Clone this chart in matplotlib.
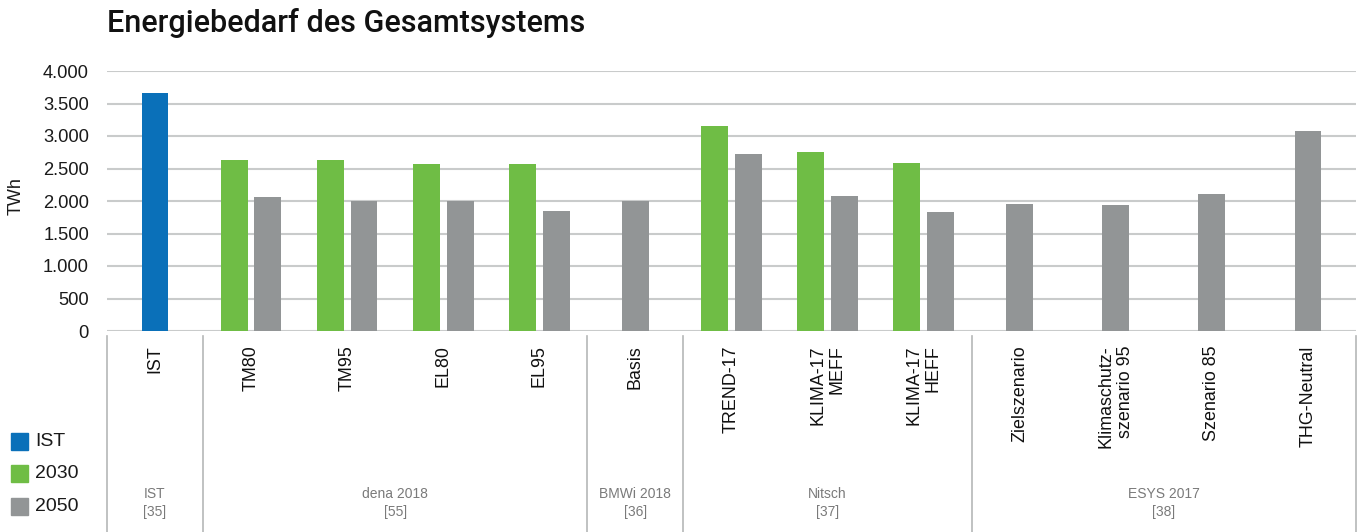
import matplotlib
matplotlib.use("Agg")
import matplotlib.pyplot as plt
from matplotlib.patches import Rectangle
from matplotlib.ticker import FuncFormatter
import numpy as np

plt.rcParams["font.family"] = ["Liberation Sans", "DejaVu Sans"]

# Scenario data (TWh); None = no value for that year
categories = ["IST", "TM80", "TM95", "EL80", "EL95", "Basis", "TREND-17",
              "KLIMA-17\nMEFF", "KLIMA-17\nHEFF", "Zielszenario",
              "Klimaschutz-\nszenario 95", "Szenario 85", "THG-Neutral"]
ist_values = [3660, None, None, None, None, None, None, None, None, None, None, None, None]
values_2030 = [None, 2630, 2630, 2570, 2570, None, 3160, 2750, 2580, None, None, None, None]
values_2050 = [None, 2060, 2000, 2000, 1850, 2000, 2720, 2080, 1830, 1950, 1940, 2110, 3070]

# Study groups: label and number of scenarios belonging to it
group_labels = ["IST\n[35]", "dena 2018\n[55]", "BMWi 2018\n[36]", "Nitsch\n[37]", "ESYS 2017\n[38]"]
group_sizes = [1, 4, 1, 3, 4]

series_names = ["IST", "2030", "2050"]
colors = {"IST": "#0a70b9", "2030": "#6fbd45", "2050": "#929596"}

W, H = 1364, 532
fig = plt.figure(figsize=(W / 100, H / 100), dpi=100)

x0, x1 = 107, 1356
y_top, y_zero = 71, 331
ax = fig.add_axes([x0 / W, 1 - y_zero / H, (x1 - x0) / W, (y_zero - y_top) / H])

n = len(categories)
bar_w = 0.28
offset = 0.175

series = {"IST": ist_values, "2030": values_2030, "2050": values_2050}
for i in range(n):
    present = [s for s in series_names if series[s][i] is not None]
    if len(present) == 1:
        pos = [0.0]
    else:
        pos = list(np.linspace(-offset, offset, len(present)))
    for s, dx in zip(present, pos):
        ax.bar(i + dx, series[s][i], width=bar_w, color=colors[s], zorder=3)

ax.set_xlim(-0.5, n - 0.5)
ax.set_ylim(0, 4000)
ax.set_yticks(np.arange(0, 4001, 500))
ax.yaxis.set_major_formatter(FuncFormatter(lambda v, p: f"{int(v):,}".replace(",", ".")))
ax.tick_params(axis="y", length=0, pad=13, labelsize=13.2, labelcolor="#1a1a1a")
ax.set_xticks([])
ax.grid(axis="y", color="#c9cbcb", linewidth=1.5, zorder=0)
for sp in ax.spines.values():
    sp.set_visible(False)
ax.set_ylabel("TWh", fontsize=13, color="#1a1a1a")
ax.yaxis.set_label_coords((25 - x0) / (x1 - x0), 0.52)

# Scenario labels below the axis
for i, lab in enumerate(categories):
    ax.annotate(lab, xy=(i, 0), xycoords=("data", "axes fraction"),
                xytext=(0, -10.5), textcoords="offset points",
                rotation=90, ha="center", va="top", multialignment="right",
                fontsize=12.9, color="#111111", linespacing=1.2)

# Group separators and study labels
bounds = np.concatenate([[0], np.cumsum(group_sizes)]) - 0.5
for b in bounds:
    ax.plot([b, b], [-0.02, -0.775], transform=ax.get_xaxis_transform(),
            color="#b5b7b7", linewidth=1.2, clip_on=False)
for k, lab in enumerate(group_labels):
    c = (bounds[k] + bounds[k + 1]) / 2
    ax.text(c, (y_zero - 503) / (y_zero - y_top), lab, transform=ax.get_xaxis_transform(),
            ha="center", va="center", fontsize=10, color="#7a7a7a",
            linespacing=1.45, family=["Liberation Sans Narrow", "Liberation Sans"])

# Legend
leg_y = [441, 473.5, 506.5]
for s, yc in zip(series_names, leg_y):
    fig.patches.append(Rectangle((10.5 / W, 1 - (yc + 8.5) / H), 17 / W, 17 / H,
                                 transform=fig.transFigure, color=colors[s]))
    fig.text(35 / W, 1 - yc / H, s, ha="left", va="center", fontsize=14, color="#1a1a1a")

fig.text(107 / W, 1 - 23 / H, "Energiebedarf des Gesamtsystems", ha="left", va="center",
         fontsize=22, color="#111111", family=["Roboto", "Liberation Sans"], weight="medium")

fig.savefig("out.png", dpi=100)
